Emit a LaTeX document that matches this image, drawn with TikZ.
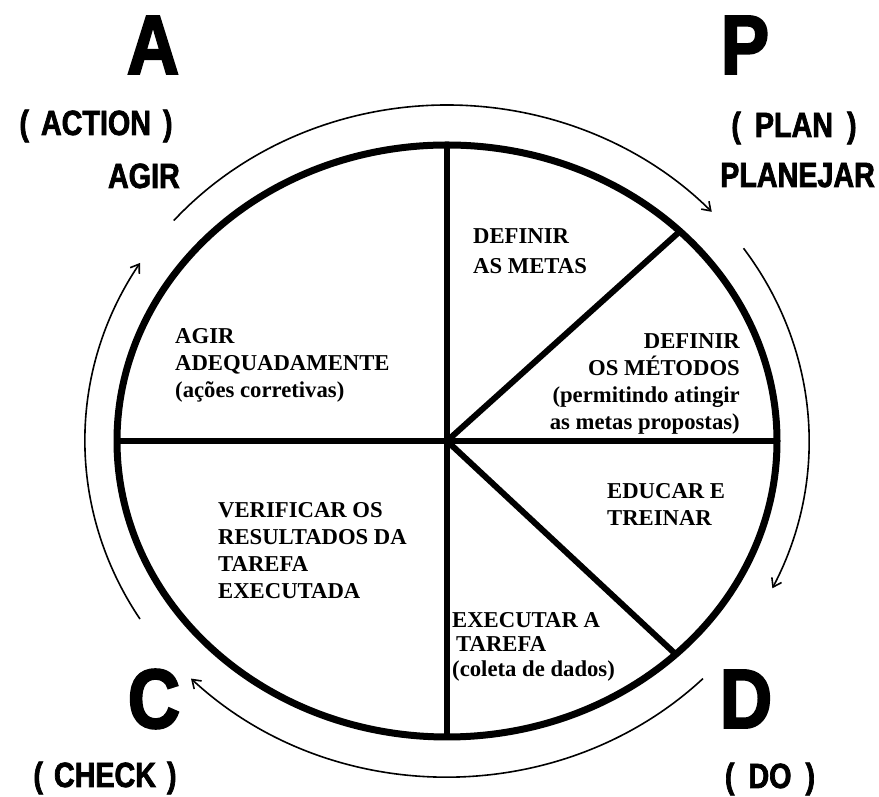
\documentclass[tikz,border=0pt]{standalone}
\usepackage{fontspec}
\usepackage{tikz}
\usetikzlibrary{arrows.meta,shapes.geometric}
\setmainfont{Liberation Serif}
\newfontfamily\heavyfont[FakeStretch=0.86, FakeBold=2.5]{Liberation Sans}
\newfontfamily\phasefont[FakeStretch=0.82, FakeBold=2]{Liberation Sans}

\begin{document}
\begin{tikzpicture}[x=1pt, y=1pt,
    letter/.style={font=\heavyfont\bfseries\fontsize{84}{84}\selectfont, inner sep=0},
    phase/.style={font=\phasefont\bfseries\fontsize{35}{40}\selectfont, inner sep=0},
    task/.style={font=\bfseries\fontsize{22.7}{27}\selectfont, inner sep=0},
    divider/.style={line width=6pt},
    cyclearrow/.style={line width=1.6pt, -{Straight Barb[length=8pt, width=11pt]}}]
    \useasboundingbox (0,0) rectangle (879,797);

    % the wheel
    \coordinate (O) at (447,356);
    \node[draw, ellipse, line width=7pt, minimum width=660pt, minimum height=592pt,
          inner sep=0, outer sep=0] (wheel) at (O) {};
    \draw[divider] (wheel.north) -- (wheel.south);
    \draw[divider] (wheel.west) -- (wheel.east);
    \draw[divider] (O) -- (wheel.42);
    \draw[divider] (O) -- (wheel.-43);

    % corner letters
    \node[letter] (A) at (153,752) {A};
    \node[letter] (P) at (745,752) {P};
    \node[letter] (C) at (154,98) {C};
    \node[letter] (D) at (746,98) {D};
    \node[phase, anchor=base] (action) at (96,662) {(\hspace{12pt}ACTION\hspace{12pt})};
    \node[phase, anchor=base east] (agir) at (180,609) {AGIR};
    \node[phase, anchor=base] (plan) at (794,660) {(\hspace{14pt}PLAN\hspace{14pt})};
    \node[phase, anchor=base west] (planejar) at (720,610) {PLANEJAR};
    \node[phase, anchor=base] (check) at (105,10) {(\hspace{11pt}CHECK\hspace{11pt})};
    \node[phase, anchor=base] (do) at (770,9) {(\hspace{14pt}DO\hspace{14pt})};

    % tasks
    \node[task, align=left, anchor=north west, font=\bfseries\fontsize{22.7}{30}\selectfont]
        (metas) at (473,569) {DEFINIR\\AS METAS};
    \node[task, align=right, anchor=north east] (metodos) at (740,464)
        {DEFINIR\\OS MÉTODOS\\(permitindo atingir\\as metas propostas)};
    \node[task, align=left, anchor=north west] (educar) at (607,314) {EDUCAR E\\TREINAR};
    \node[task, align=left, anchor=north west, font=\bfseries\fontsize{22.7}{24.5}\selectfont]
        (executar) at (452,185) {EXECUTAR A\\\hspace{4pt}TAREFA\\(coleta de dados)};
    \node[task, align=left, anchor=north west] (verificar) at (218,295)
        {VERIFICAR OS\\RESULTADOS DA\\TAREFA\\EXECUTADA};
    \node[task, align=left, anchor=north west] (corrigir) at (175,469)
        {AGIR\\ADEQUADAMENTE\\(ações corretivas)};

    % cycle arrows
    \draw[cyclearrow] (O) ++(139:362 and 336) arc[start angle=139, end angle=43, x radius=362, y radius=336];
    \draw[cyclearrow] (O) ++(35:362 and 336) arc[start angle=35, end angle=-26, x radius=362, y radius=336];
    \draw[cyclearrow] (O) ++(-45:362 and 336) arc[start angle=-45, end angle=-135, x radius=362, y radius=336];
    \draw[cyclearrow] (O) ++(212:362 and 336) arc[start angle=212, end angle=148, x radius=362, y radius=336];
\end{tikzpicture}
\end{document}
